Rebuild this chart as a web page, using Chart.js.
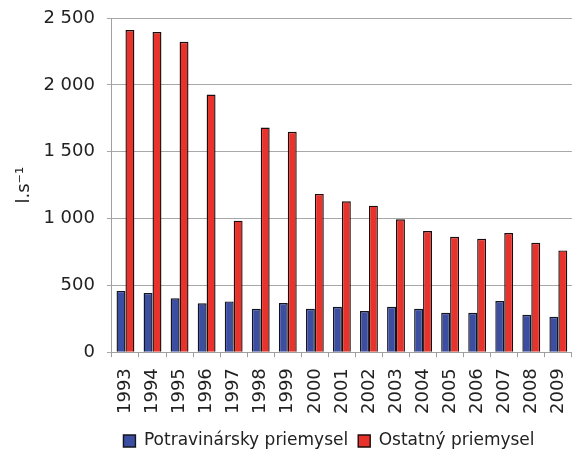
<!DOCTYPE html>
<html>
<head>
<meta charset="utf-8">
<script src="https://cdn.jsdelivr.net/npm/chart.js@4/dist/chart.umd.min.js"></script>
<style>
html,body{margin:0;padding:0;background:#fff;overflow:hidden;}
#wrap{position:absolute;left:0;top:0;width:591px;height:457px;}
</style>
</head>
<body>
<div id="wrap"><canvas id="c" width="591" height="457"></canvas></div>
<script>
const years = ['1993','1994','1995','1996','1997','1998','1999','2000','2001','2002','2003','2004','2005','2006','2007','2008','2009'];
const potravinarsky = [458,443,403,366,380,325,368,325,340,308,340,325,295,295,383,280,265];
const ostatny = [2410,2395,2322,1927,984,1680,1649,1184,1129,1096,994,906,863,848,891,818,761];
const seriesNames = ['Potravinársky priemysel','Ostatný priemysel'];
const yAxisTitle = 'l.s\u207B\u00B9';

const FONT = 'DejaVu Sans';
const textColor = '#222222';

const legendShift = {
  id: 'legendShift',
  afterLayout(chart) {
    const l = chart.legend;
    if (!l) return;
    const dx = 329 - (l.left + l.right) / 2;
    l.left += dx; l.right += dx;
    const dy = 441 - (l.top + l.bottom) / 2;
    l.top += dy; l.bottom += dy;
  }
};

new Chart(document.getElementById('c'), {
  type: 'bar',
  data: {
    labels: years,
    datasets: [
      { label: seriesNames[0], data: potravinarsky, backgroundColor: '#3b4ea2', borderColor: '#14141e', borderWidth: 1.4 },
      { label: seriesNames[1], data: ostatny, backgroundColor: '#e8322c', borderColor: '#1e0c0c', borderWidth: 1.4 }
    ]
  },
  options: {
    responsive: false,
    animation: false,
    devicePixelRatio: 1,
    layout: { padding: { left: 17, right: 2, top: 18, bottom: -5 } },
    datasets: { bar: { categoryPercentage: 0.66, barPercentage: 1.0 } },
    plugins: {
      legend: {
        position: 'bottom',
        labels: {
          font: { family: FONT, size: 17 },
          color: textColor,
          boxWidth: 12, boxHeight: 12,
          padding: 10
        }
      },
      tooltip: { enabled: false }
    },
    scales: {
      x: {
        grid: { display: true, drawOnChartArea: false, offset: true, tickLength: 5, color: '#a0a0a0' },
        border: { color: '#a0a0a0' },
        ticks: { font: { family: FONT, size: 18 }, color: textColor, maxRotation: 90, minRotation: 90, padding: 11, autoSkip: false }
      },
      y: {
        min: 0, max: 2500,
        grid: { color: '#a8a8a8', tickLength: 5 },
        border: { color: '#a0a0a0' },
        ticks: {
          stepSize: 500,
          font: { family: FONT, size: 18, lineHeight: 0.5 },
          color: textColor,
          padding: 12,
          callback: v => String(v).replace(/\B(?=(\d{3})+(?!\d))/g, '\u00A0')
        },
        title: { display: true, text: yAxisTitle, font: { family: FONT, size: 18, lineHeight: 0.8 }, color: textColor, padding: { top: 0, bottom: 0 } }
      }
    }
  },
  plugins: [legendShift]
});
</script>
</body>
</html>
